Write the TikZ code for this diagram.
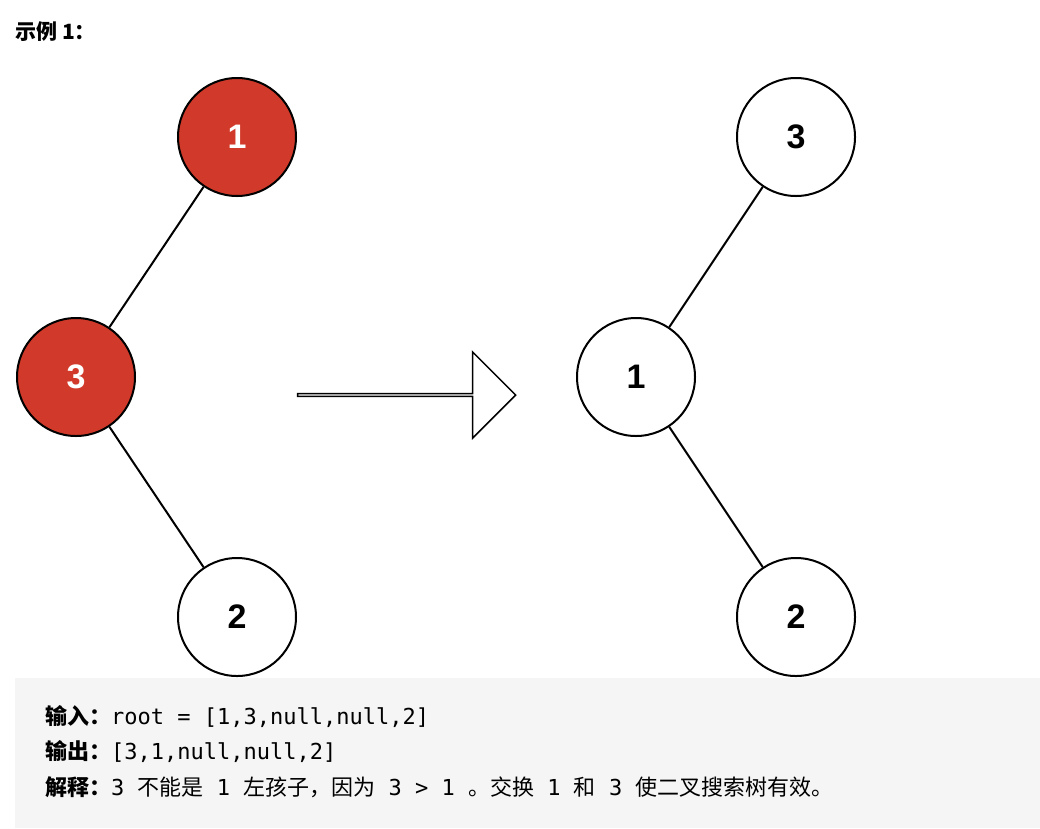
\documentclass[tikz,border=0pt]{standalone}
\usepackage{fontspec}
\setmainfont{Liberation Sans}
\newfontfamily\cjk{Noto Sans CJK SC}
\newfontfamily\mono{DejaVu Sans Mono}
\usetikzlibrary{shapes.arrows}
\definecolor{nred}{HTML}{D13A2A}
\begin{document}
\begin{tikzpicture}[x=1pt,y=-1pt,
  tn/.style={circle,draw=black,line width=2pt,minimum size=118pt,inner sep=0pt,font=\fontsize{34}{34}\selectfont\bfseries},
  rn/.style={tn,fill=nred,text=white},
  wn/.style={tn,fill=white},
  ed/.style={line width=2pt},
  tx/.style={anchor=west,inner sep=0pt,font=\fontsize{22}{22}\selectfont}]
\useasboundingbox (0,0) rectangle (1040,828);
\fill[white] (0,0) rectangle (1040,828);
\node[tx,font=\fontsize{21}{21}\selectfont\cjk\bfseries] (title) at (15,32) {示例 1：};
\node[rn] (a1) at (237,137) {1};
\node[rn] (a3) at (76,377) {3};
\node[wn] (a2) at (237,617) {2};
\draw[ed] (a1) -- (a3);
\draw[ed] (a3) -- (a2);
\node[single arrow,draw=black,line width=1.5pt,fill=white,minimum height=218pt,minimum width=86pt,single arrow head extend=23pt,single arrow tip angle=90,inner sep=0pt] (arr) at (406,395) {};
\node[wn] (b3) at (796,137) {3};
\node[wn] (b1) at (636,377) {1};
\node[wn] (b2) at (796,617) {2};
\draw[ed] (b3) -- (b1);
\draw[ed] (b1) -- (b2);
\fill[black!4] (15,678) rectangle (1040,828);
\node[tx] (l1) at (45,717) {{\cjk\bfseries 输入：}\mono root = [1,3,null,null,2]};
\node[tx] (l2) at (45,752) {{\cjk\bfseries 输出：}\mono [3,1,null,null,2]};
\node[tx] (l3) at (45,787) {{\cjk\bfseries 解释：}\mono 3 {\cjk 不能是} 1 {\cjk 左孩子，因为} 3 > 1 {\cjk 。交换} 1 {\cjk 和} 3 {\cjk 使二叉搜索树有效。}};
\end{tikzpicture}
\end{document}
